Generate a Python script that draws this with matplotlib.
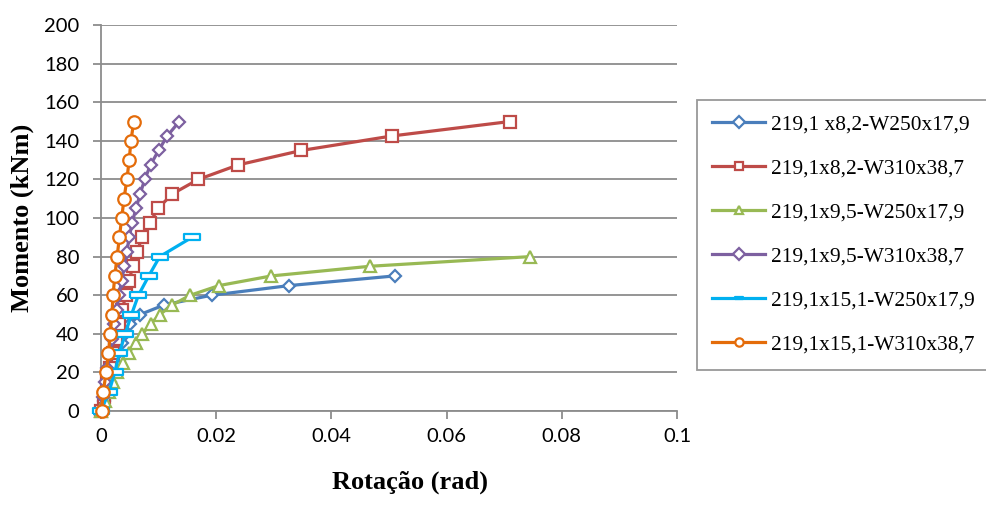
import numpy as np
import matplotlib
matplotlib.use("Agg")
import matplotlib.pyplot as plt

# moment values (kNm)
m_blue = [0, 5, 10, 15, 20, 25, 30, 35, 40, 45, 50, 55, 60, 65, 70]
m_red = [0, 7.5, 15, 22.5, 30, 37.5, 45, 52.5, 60, 67.5, 75, 82.5, 90, 97.5,
         105, 112.5, 120, 127.5, 135, 142.5, 150]
m_green = [0, 5, 10, 15, 20, 25, 30, 35, 40, 45, 50, 55, 60, 65, 70, 75, 80]
m_purple = [0, 7.5, 15, 22.5, 30, 37.5, 45, 52.5, 60, 67.5, 75, 82.5, 90, 97.5,
            105, 112.5, 120, 127.5, 135, 142.5, 150]
m_cyan = [0, 10, 20, 30, 40, 50, 60, 70, 80, 90]
m_orange = [0, 10, 20, 30, 40, 50, 60, 70, 80, 90, 100, 110, 120, 130, 140, 150]

# rotations (rad)
r_blue = [0, 0.0005, 0.0010, 0.0015, 0.0020, 0.0025, 0.0030, 0.0036, 0.0042,
          0.0050, 0.0068, 0.0110, 0.0192, 0.0327, 0.0510]
r_red = [0, 0.0005, 0.0010, 0.0015, 0.0021, 0.0026, 0.0031, 0.0037, 0.0043,
         0.0049, 0.0055, 0.0063, 0.0071, 0.0085, 0.0099, 0.0124, 0.0169,
         0.0238, 0.0348, 0.0505, 0.0710]
r_green = [0, 0.0007, 0.0014, 0.0021, 0.0028, 0.0038, 0.0048, 0.0060, 0.0072,
           0.0086, 0.0102, 0.0124, 0.0155, 0.0205, 0.0296, 0.0467, 0.0745]
r_purple = [0, 0.0004, 0.0007, 0.0011, 0.0015, 0.0019, 0.0023, 0.0027, 0.0031,
            0.0036, 0.0040, 0.0045, 0.0049, 0.0054, 0.0061, 0.0068, 0.0076,
            0.0086, 0.0100, 0.0115, 0.0136]
r_cyan = [0, 0.0014, 0.0024, 0.0032, 0.0042, 0.0053, 0.0065, 0.0083, 0.0102, 0.0158]
r_orange = [0.0001, 0.0004, 0.0009, 0.0013, 0.0016, 0.0019, 0.0021, 0.0024,
            0.0028, 0.0032, 0.0036, 0.0040, 0.0045, 0.0049, 0.0052, 0.0057]

labels = ["219,1 x8,2-W250x17,9", "219,1x8,2-W310x38,7", "219,1x9,5-W250x17,9",
          "219,1x9,5-W310x38,7", "219,1x15,1-W250x17,9", "219,1x15,1-W310x38,7"]

rect = [(-1, -0.35), (1, -0.35), (1, 0.35), (-1, 0.35), (-1, -0.35)]

series = [
    (r_blue, m_blue, "#4A7EBB", "D", 6),
    (r_red, m_red, "#BE4B48", "s", 8),
    (r_green, m_green, "#98B954", "^", 8.5),
    (r_purple, m_purple, "#7D60A0", "D", 6),
    (r_cyan, m_cyan, "#00B0F0", rect, 11),
    (r_orange, m_orange, "#E46C0A", "o", 9),
]

fig = plt.figure(figsize=(9.87, 5.23), dpi=100)
ax = fig.add_axes([0.1023, 0.2141, 0.5836, 0.7381])

lines = []
for (x, y, c, mk, ms), lab in zip(series, labels):
    ln, = ax.plot(x, y, color=c, lw=2.3, marker=mk, markersize=ms,
                  markerfacecolor="white", markeredgecolor=c, markeredgewidth=1.6,
                  label=lab, zorder=3, clip_on=False)
    lines.append(ln)

ax.set_xlim(0, 0.1)
ax.set_ylim(0, 200)
ax.set_xticks(np.arange(0, 0.101, 0.02))
ax.set_xticklabels(["0", "0.02", "0.04", "0.06", "0.08", "0.1"])
ax.set_yticks(np.arange(0, 201, 20))
ax.grid(axis="y", color="#8C8C8C", lw=1.3)
ax.set_axisbelow(True)
for s in ["top", "right"]:
    ax.spines[s].set_visible(False)
for s in ["left", "bottom"]:
    ax.spines[s].set_color("#8C8C8C")
    ax.spines[s].set_linewidth(1.3)
ax.tick_params(colors="#8C8C8C", length=6, width=1.3, labelcolor="black",
               labelsize=14.5)
for t in ax.get_xticklabels() + ax.get_yticklabels():
    t.set_family("Lato")
ax.tick_params(axis="x", pad=6)
ax.tick_params(axis="y", pad=9.5)

fig.text(410 / 987, 1 - 482 / 523, "Rotação (rad)", ha="center", va="center",
         family="Liberation Serif", weight="bold", fontsize=19)
fig.text(22 / 987, 1 - 218 / 523, "Momento (kNm)", ha="center", va="center",
         rotation=90, family="Liberation Serif", weight="bold", fontsize=19)

leg = fig.legend(handles=lines, loc="upper left", bbox_to_anchor=(697 / 987, 1 - 100 / 523),
                 prop={"family": "Liberation Serif", "size": 15.4},
                 frameon=True, fancybox=False, edgecolor="#7F7F7F",
                 labelspacing=1.12, handlelength=2.5, handletextpad=0.25,
                 borderpad=0.7, borderaxespad=0)
leg.get_frame().set_linewidth(1.3)
for h in leg.legend_handles:
    h.set_markersize(6)

fig.savefig("out.png", dpi=100)
